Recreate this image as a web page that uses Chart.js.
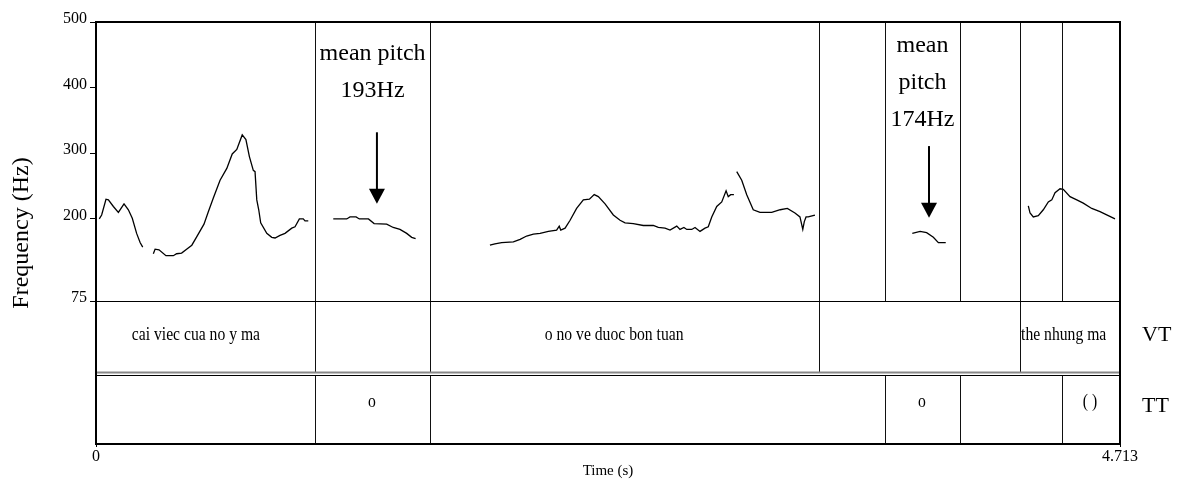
<!DOCTYPE html>
<html>
<head>
<meta charset="utf-8">
<script src="https://cdn.jsdelivr.net/npm/chart.js@4"></script>
<style>
  html, body { margin: 0; padding: 0; background: #fff; }
  #wrap { width: 1181px; height: 483px; }
</style>
</head>
<body>
<div id="wrap"><canvas id="pitch" width="1181" height="483"></canvas></div>
<script>
// Pitch track with two annotation tiers (VT / TT) underneath
const timeMax = 4.713;
const timeTicks = [0, 4.713];
const freqTicks = [75, 200, 300, 400, 500];

// F0 samples; null in pitchHz marks an unvoiced gap
const pitchTime = [
  0.015, 0.026, 0.046, 0.057, 0.080, 0.103, 0.129, 0.149, 0.167, 0.187, 0.203, 0.215,
  0.240,
  0.264, 0.272, 0.290, 0.322, 0.356, 0.371, 0.394, 0.417, 0.441, 0.464, 0.497, 0.517,
  0.540, 0.571, 0.602, 0.627, 0.648, 0.673, 0.690, 0.706, 0.724, 0.732, 0.740, 0.749,
  0.758, 0.786, 0.809, 0.824, 0.847, 0.870, 0.901, 0.916, 0.936, 0.954, 0.962, 0.977,
  1.030,
  1.092, 1.154, 1.169, 1.197, 1.212, 1.254, 1.280, 1.338, 1.368, 1.399, 1.430, 1.453, 1.471,
  1.600,
  1.813, 1.836, 1.867, 1.921, 1.952, 1.982, 2.013, 2.044, 2.082, 2.120, 2.132, 2.139,
  2.159, 2.182, 2.212, 2.243, 2.271, 2.293, 2.312, 2.343, 2.381, 2.412, 2.435, 2.473,
  2.519, 2.565, 2.588, 2.619, 2.642, 2.673, 2.688, 2.706, 2.719, 2.742, 2.757, 2.780,
  2.803, 2.818, 2.834, 2.857, 2.880, 2.900, 2.910, 2.921, 2.936,
  2.942,
  2.949, 2.972, 2.995, 3.025, 3.056, 3.110, 3.149, 3.182, 3.217, 3.240, 3.253, 3.260,
  3.268, 3.278, 3.309,
  3.500,
  3.757, 3.793, 3.823, 3.854, 3.877, 3.911,
  4.100,
  4.291, 4.299, 4.314, 4.337, 4.360, 4.383, 4.399, 4.414, 4.437, 4.452, 4.483, 4.514,
  4.544, 4.583, 4.621, 4.659, 4.690
];
const pitchHz = [
  200, 206, 230, 229, 219, 210, 223, 214, 201, 178, 164, 157,
  null,
  147, 154, 153, 144, 144, 147, 148, 154, 160, 173, 192, 211,
  232, 259, 277, 299, 306, 328, 321, 295, 274, 272, 229, 214,
  194, 178, 172, 171, 175, 178, 186, 188, 200, 200, 197, 197,
  null,
  200, 200, 203, 203, 200, 200, 193, 192, 187, 184, 178, 172, 170,
  null,
  160, 162, 164, 165, 169, 174, 177, 178, 181, 183, 189, 183,
  186, 198, 216, 229, 230, 237, 234, 223, 206, 198, 194, 193,
  190, 190, 187, 186, 183, 189, 184, 187, 184, 184, 187, 181,
  186, 188, 203, 219, 226, 243, 234, 237, 237,
  null,
  272, 259, 237, 214, 210, 210, 214, 216, 209, 203, 184, 196,
  203, 203, 206,
  null,
  178, 181, 179, 172, 164, 164,
  null,
  220, 209, 203, 205, 214, 226, 229, 240, 246, 245, 234, 229,
  224, 216, 211, 205, 200
];

// interval tiers: boundaries in seconds, one label per interval
const tierNames = ['VT', 'TT'];
const vtBounds = [0, 1.008, 1.537, 3.328, 4.253, 4.713];
const vtLabels = ['cai viec cua no y ma', '', 'o no ve duoc bon tuan', '', 'the nhung ma'];
const ttBounds = [0, 1.008, 1.537, 3.631, 3.977, 4.446, 4.713];
const ttLabels = ['', 'o', '', 'o', '', '( )'];

// mean-pitch callouts: text lines, centre time, arrow start/tip in Hz
const noteLines = [['mean pitch', '193Hz'], ['mean', 'pitch', '174Hz']];
const noteTime = [1.273, 3.804];
const arrowTime = [1.293, 3.834];
const arrowFromHz = [332, 311];
const arrowToHz = [223, 202];

const serif = '"Liberation Serif", "Times New Roman", serif';
Chart.defaults.font.family = serif;
Chart.defaults.color = '#000';

const points = pitchTime.map((t, i) => ({ x: t, y: pitchHz[i] }));

const textGrid = {
  id: 'textGrid',
  afterDraw(chart, args, o) {
    const { ctx, chartArea: a, scales: { x, y, tier } } = chart;
    const px = t => Math.round(x.getPixelForValue(t)) + 0.5;
    const pitchBottom = y.getPixelForValue(75);
    const vtTop = tier.getPixelForValue(0);
    const vtBottom = tier.getPixelForValue(1);
    const ttTop = vtBottom + 2.5;
    const ttBottom = tier.getPixelForValue(2);

    ctx.save();
    const vline = (xp, y0, y1) => {
      ctx.beginPath(); ctx.moveTo(xp, y0); ctx.lineTo(xp, y1); ctx.stroke();
    };
    const hline = (yp, color, w) => {
      ctx.strokeStyle = color; ctx.lineWidth = w;
      ctx.beginPath(); ctx.moveTo(a.left, yp); ctx.lineTo(a.right, yp); ctx.stroke();
    };

    // interval boundaries: every boundary runs through the pitch area
    ctx.strokeStyle = '#111';
    ctx.lineWidth = 1;
    const inner = b => b.slice(1, -1);
    const all = [...new Set([...inner(vtBounds), ...inner(ttBounds)])];
    all.forEach(t => vline(px(t), a.top, pitchBottom));
    inner(vtBounds).forEach(t => vline(px(t), vtTop, vtBottom));
    inner(ttBounds).forEach(t => vline(px(t), ttTop, ttBottom));

    hline(Math.round(pitchBottom) + 0.5, '#000', 1);
    hline(vtBottom, '#888', 2);
    hline(Math.round(ttTop) + 0.5, '#000', 1);

    // interval labels, squeezed a little like the source rendering
    ctx.fillStyle = '#000';
    ctx.font = '18px ' + serif;
    ctx.textAlign = 'left';
    ctx.textBaseline = 'alphabetic';
    const squeezed = (str, cx, base) => {
      if (!str) return;
      const w = ctx.measureText(str).width;
      ctx.fillText(str, cx - w / 2, base, w * o.squeeze);
    };
    const vtMid = (vtTop + vtBottom) / 2;
    const ttMid = (ttTop + ttBottom) / 2;
    vtLabels.forEach((s, i) => squeezed(s, (x.getPixelForValue(vtBounds[i]) + x.getPixelForValue(vtBounds[i + 1])) / 2, vtMid + 3));
    ttLabels.forEach((s, i) => squeezed(s, (x.getPixelForValue(ttBounds[i]) + x.getPixelForValue(ttBounds[i + 1])) / 2, ttMid - 2.5));

    // tier names right of the frame
    ctx.font = '22px ' + serif;
    ctx.fillText(tierNames[0], a.right + 22, vtMid + 4.5);
    ctx.fillText(tierNames[1], a.right + 22, ttMid + 2);

    // mean pitch callouts
    ctx.font = '24px ' + serif;
    ctx.textAlign = 'center';
    noteLines.forEach((lines, i) => {
      const cx = x.getPixelForValue(noteTime[i]);
      lines.forEach((s, k) => ctx.fillText(s, cx, a.top + o.noteTop[i] + k * o.noteStep));
    });

    // arrows
    arrowTime.forEach((t, i) => {
      const ax = x.getPixelForValue(t);
      const y0 = y.getPixelForValue(arrowFromHz[i]);
      const tip = y.getPixelForValue(arrowToHz[i]);
      ctx.strokeStyle = '#000';
      ctx.lineWidth = 2;
      ctx.beginPath(); ctx.moveTo(ax, y0); ctx.lineTo(ax, tip - 12); ctx.stroke();
      ctx.beginPath();
      ctx.moveTo(ax - 8, tip - 15);
      ctx.lineTo(ax + 8, tip - 15);
      ctx.lineTo(ax, tip);
      ctx.closePath();
      ctx.fill();
    });

    // outer frame
    ctx.strokeStyle = '#000';
    ctx.lineWidth = 2;
    ctx.strokeRect(a.left, a.top, a.right - a.left, a.bottom - a.top);

    // vertical axis title, centred on the whole frame
    ctx.font = '24px ' + serif;
    ctx.textAlign = 'center';
    ctx.textBaseline = 'middle';
    ctx.translate(22, (a.top + a.bottom) / 2);
    ctx.rotate(-Math.PI / 2);
    ctx.fillText('Frequency (Hz)', 0, 0);
    ctx.restore();
  }
};

new Chart(document.getElementById('pitch'), {
  type: 'line',
  data: {
    datasets: [{
      data: points,
      borderColor: '#000',
      borderWidth: 1.3,
      pointRadius: 0,
      tension: 0,
      spanGaps: false,
      xAxisID: 'x',
      yAxisID: 'y'
    }]
  },
  options: {
    responsive: false,
    animation: false,
    devicePixelRatio: 1,
    layout: { padding: { top: 22, right: 61, bottom: 0, left: 0 } },
    plugins: {
      legend: { display: false },
      tooltip: { enabled: false },
      textGrid: { squeeze: 0.87, noteTop: [38, 30], noteStep: 37 }
    },
    scales: {
      x: {
        type: 'linear',
        min: 0,
        max: timeMax,
        afterBuildTicks: s => { s.ticks = timeTicks.map(v => ({ value: v })); },
        afterFit: s => { s.height = 39; },
        ticks: {
          font: { size: 16 },
          padding: 0,
          maxRotation: 0,
          autoSkip: false,
          callback: v => (v === 0 ? '0' : String(timeMax))
        },
        grid: { drawOnChartArea: false, tickLength: 3, color: '#000' },
        border: { display: false },
        title: { display: true, text: 'Time (s)', font: { size: 15 }, padding: { top: 0, bottom: 3 } }
      },
      y: {
        type: 'linear',
        position: 'left',
        stack: 'frame',
        stackWeight: 279,
        weight: 1,
        min: 75,
        max: 500,
        afterBuildTicks: s => { s.ticks = freqTicks.map(v => ({ value: v })); },
        afterFit: s => { s.width = 96; },
        ticks: { font: { size: 16 }, padding: 3, labelOffset: -3, callback: v => String(v) },
        grid: { drawOnChartArea: false, tickLength: 6, color: '#000' },
        border: { display: false }
      },
      tier: {
        type: 'linear',
        position: 'left',
        stack: 'frame',
        stackWeight: 143,
        weight: 0,
        min: 0,
        max: 2,
        reverse: true,
        afterFit: s => { s.width = 96; },
        ticks: { display: false },
        grid: { display: false },
        border: { display: false }
      }
    }
  },
  plugins: [textGrid]
});
</script>
</body>
</html>
